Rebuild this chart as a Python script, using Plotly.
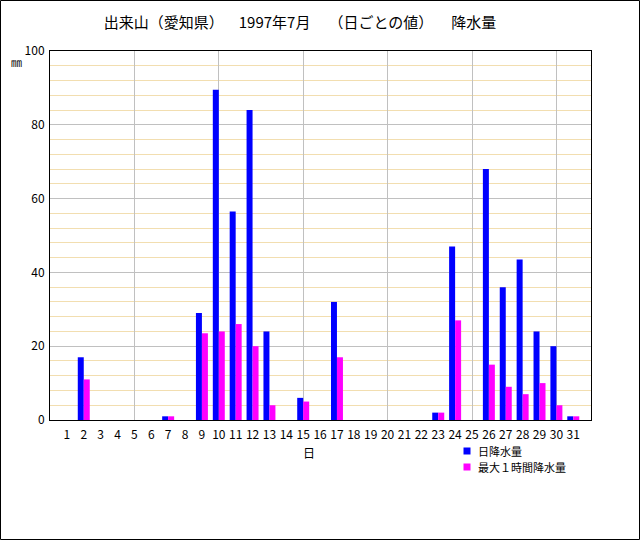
import plotly.graph_objects as go

days = list(range(1, 32))
daily = [0, 17, 0, 0, 0, 0, 1, 0, 29, 89.5, 56.5, 84, 24, 0, 6, 0, 32, 0, 0, 0, 0, 0, 2, 47, 0, 68, 36, 43.5, 24, 20, 1]
max1h = [0, 11, 0, 0, 0, 0, 1, 0, 23.5, 24, 26, 20, 4, 0, 5, 0, 17, 0, 0, 0, 0, 0, 2, 27, 0, 15, 9, 7, 10, 4, 1]
series_names = ["日降水量", "最大１時間降水量"]
series_colors = ["#0000FF", "#FF00FF"]
title_text = "出来山（愛知県）\u3000\u20021997年7月\u3000\u2009（日ごとの値）\u3000\u2002\u2009降水量"

W, H = 640, 540
ML, MR, MT, MB = 50, 49, 51, 120
PW, PH = W - ML - MR, H - MT - MB
FONT = "Noto Sans CJK JP, DejaVu Sans, sans-serif"

def px(xp):
    return (xp - ML) / PW

def py(yp):
    return (H - MB - yp) / PH

fig = go.Figure()
for name, vals, col in zip(series_names, [daily, max1h], series_colors):
    fig.add_trace(go.Bar(x=days, y=vals, name=name, marker=dict(color=col, line=dict(width=0))))
# invisible trace on overlay axis for vertical grid
fig.add_trace(go.Scatter(x=[0], y=[0], xaxis="x2", mode="markers", marker=dict(opacity=0),
                         showlegend=False, hoverinfo="skip"))

# legend drawn manually for tight spacing
LEG_FS = 11
legend_shapes = []
legend_annots = []
for i, (name, col) in enumerate(zip(series_names, series_colors)):
    yc = 451 + 16 * i
    legend_shapes.append(dict(type="rect", xref="paper", yref="paper",
                              x0=px(463.5), x1=px(470.5), y0=py(yc - 3.5), y1=py(yc + 3.5),
                              line=dict(width=0), fillcolor=col))
    legend_annots.append(dict(text=name, x=px(477), y=py(yc), xref="paper", yref="paper",
                              showarrow=False, xanchor="left", yanchor="middle", borderpad=0,
                              font=dict(size=LEG_FS, family=FONT)))

fig.update_layout(
    width=W, height=H,
    margin=dict(l=ML, r=MR, t=MT, b=MB, pad=0),
    paper_bgcolor="white", plot_bgcolor="white",
    font=dict(family=FONT, size=12, color="black"),
    barmode="group", bargap=0.29, bargroupgap=0,
    showlegend=False,
    title=dict(text=title_text, x=300 / W, xanchor="center", y=1 - 23 / H, yanchor="middle",
               font=dict(size=15, family=FONT)),
    xaxis=dict(range=[0, 32.05], tickmode="array", tickvals=days, ticktext=[str(d) for d in days],
               showgrid=False, zeroline=False, showline=True, linecolor="black", linewidth=1, mirror=True,
               ticks="", tickfont=dict(size=12), ticklabelstandoff=4, fixedrange=True),
    xaxis2=dict(range=[0, 32.05], overlaying="x", tickmode="linear", tick0=0, dtick=5,
                showgrid=True, gridcolor="#C0C0C0", gridwidth=1, showticklabels=False, zeroline=False,
                ticks="", layer="below traces"),
    yaxis=dict(range=[0, 100], tickmode="linear", tick0=0, dtick=20, showgrid=True, gridcolor="#C0C0C0",
               gridwidth=1, zeroline=False, showline=True, linecolor="black", linewidth=1, mirror=True,
               ticks="", tickfont=dict(size=12), ticklabelstandoff=2,
               minor=dict(tick0=0, dtick=4, showgrid=True, gridcolor="#F2DEB0", gridwidth=1, ticks="")),
    annotations=[
        dict(text="日", x=px(309), y=py(452), xref="paper", yref="paper", showarrow=False,
             xanchor="center", yanchor="middle", font=dict(size=12, family=FONT)),
        dict(text="㎜", x=px(16), y=py(62), xref="paper", yref="paper", showarrow=False,
             xanchor="center", yanchor="middle", font=dict(size=11, family=FONT)),
    ] + legend_annots,
    shapes=[
        dict(type="rect", xref="paper", yref="paper", x0=px(0.5), x1=px(639.5), y0=py(0.5), y1=py(539.5),
             line=dict(color="black", width=1), fillcolor="rgba(0,0,0,0)", layer="above"),
    ] + legend_shapes,
)

fig.write_html("out.html")
